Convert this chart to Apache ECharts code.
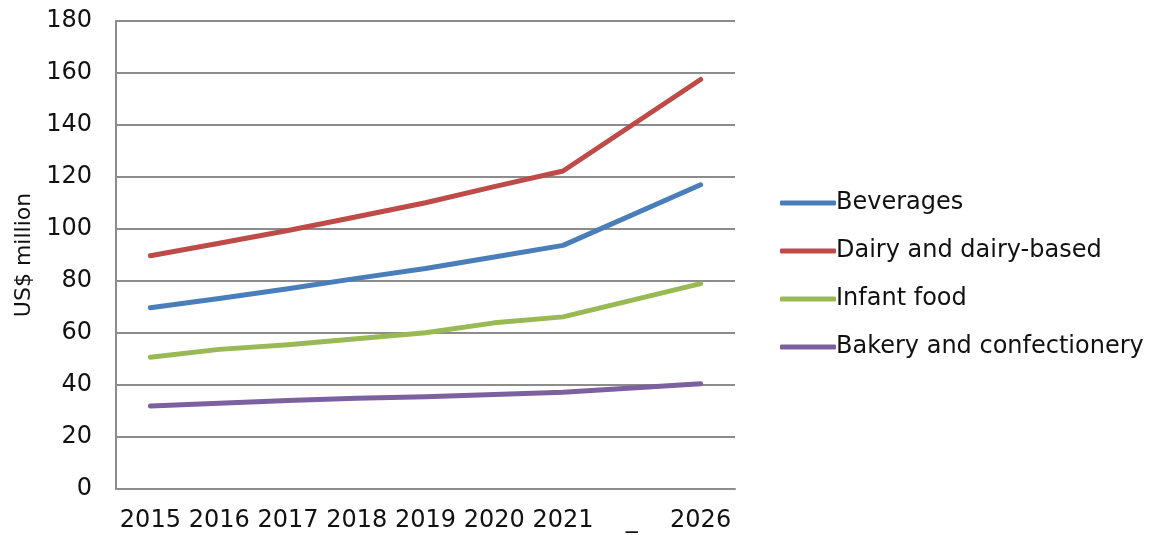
<!DOCTYPE html>
<html>
<head>
<meta charset="utf-8">
<script src="https://cdn.jsdelivr.net/npm/echarts@6/dist/echarts.min.js"></script>
<style>
	html, body { margin: 0; padding: 0; background: #fff; }
	#chartDiv { width: 1174px; height: 535px; }
</style>
</head>
<body>
<div id="chartDiv"></div>
<script>
var years = ["2015", "2016", "2017", "2018", "2019", "2020", "2021", "_", "2026"];
var yTicks = [0, 20, 40, 60, 80, 100, 120, 140, 160, 180];

// "_" has no value, the line just runs through it
var beverages = [69.7, 73.3, 77.0, 81.0, 84.8, 89.2, 93.7, null, 117.0];
var dairy = [89.7, 94.5, 99.4, 104.7, 110.1, 116.3, 122.3, null, 157.5];
var infant = [50.7, 53.7, 55.5, 57.8, 60.1, 63.9, 66.2, null, 79.0];
var bakery = [31.9, 33.0, 34.0, 34.9, 35.5, 36.3, 37.2, null, 40.5];

var seriesNames = ["Beverages", "Dairy and dairy-based", "Infant food", "Bakery and confectionery"];
var seriesColors = ["#4a7ebb", "#be4b48", "#98b954", "#7d60a0"];
var seriesData = [beverages, dairy, infant, bakery];

var fontName = "'DejaVu Sans', sans-serif";

function makeSeries(i) {
	return {
		name : seriesNames[i],
		type : "line",
		data : seriesData[i],
		connectNulls : true,
		symbol : "none",
		color : seriesColors[i],
		lineStyle : {
			width : 5,
			cap : "round",
			join : "round"
		}
	};
}

var chart = echarts.init(document.getElementById("chartDiv"));

chart.setOption({
	animation : false,
	textStyle : { fontFamily : fontName },
	grid : {
		left : 116,
		right : 439,
		top : 21,
		bottom : 46
	},
	legend : {
		orient : "vertical",
		left : 775,
		top : 184,
		icon : "roundRect",
		itemWidth : 56,
		itemHeight : 5,
		itemGap : 20,
		data : seriesNames,
		textStyle : {
			fontFamily : fontName,
			fontSize : 24,
			lineHeight : 28,
			color : "#111",
			padding : [0, 0, 0, -5]
		}
	},
	xAxis : {
		type : "category",
		data : years,
		boundaryGap : true,
		axisLine : { lineStyle : { color : "#8c8c8c", width : 2 } },
		axisTick : { show : false },
		axisLabel : {
			fontFamily : fontName,
			fontSize : 24,
			color : "#111",
			margin : 20,
			interval : 0
		}
	},
	yAxis : {
		type : "value",
		min : yTicks[0],
		max : yTicks[yTicks.length - 1],
		interval : 20,
		name : "US$ million",
		nameLocation : "middle",
		nameGap : 80,
		nameTextStyle : {
			fontFamily : fontName,
			fontSize : 22,
			color : "#111"
		},
		axisLine : { show : true, lineStyle : { color : "#8c8c8c", width : 2 } },
		axisTick : { show : false },
		axisLabel : {
			fontFamily : fontName,
			fontSize : 24,
			color : "#111",
			margin : 24
		},
		splitLine : { lineStyle : { color : "#8c8c8c", width : 2 } }
	},
	series : [makeSeries(0), makeSeries(1), makeSeries(2), makeSeries(3)]
});
</script>
</body>
</html>
